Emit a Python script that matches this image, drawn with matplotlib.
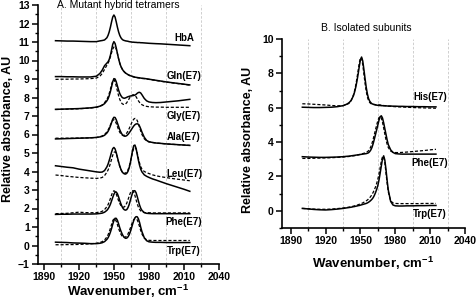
import matplotlib
matplotlib.use("Agg")
import matplotlib.pyplot as plt
from matplotlib.ticker import MultipleLocator

plt.rcParams['font.family'] = ['Liberation Sans', 'DejaVu Sans']
plt.rcParams['mathtext.fontset'] = 'custom'
plt.rcParams['mathtext.bf'] = 'Liberation Sans:bold'
plt.rcParams['mathtext.rm'] = 'Liberation Sans'
plt.rcParams['mathtext.default'] = 'bf'

# shared wavenumber grid (cm-1)
wavenumber = [1900, 1905, 1910, 1915, 1920, 1925, 1930, 1935, 1938, 1940, 1942,
              1944, 1945, 1946, 1947, 1948, 1949, 1950, 1951, 1952, 1953, 1954,
              1955, 1956, 1957, 1958, 1959, 1960, 1961, 1962, 1963, 1964, 1965,
              1966, 1967, 1968, 1969, 1970, 1971, 1972, 1973, 1974,
              1976, 1978, 1980, 1983, 1986, 1990, 1995, 2000, 2005, 2010, 2015]

# ---- Panel A: mutant hybrid tetramers ----
hba_solid = [11.07, 11.06, 11.05, 11.05, 11.04, 11.03, 11.02, 11.02, 11.06, 11.08, 11.11,
             11.23, 11.36, 11.55, 11.80, 12.09, 12.35, 12.46, 12.35, 12.09, 11.80, 11.55,
             11.36, 11.23, 11.15, 11.10, 11.08, 11.06, 11.05, 11.04, 11.02, 11.01, 11.00,
             10.99, 10.99, 10.98, 10.98, 10.97, 10.97, 10.97, 10.96, 10.96,
             10.95, 10.94, 10.93, 10.92, 10.91, 10.90, 10.88, 10.86, 10.84, 10.82, 10.80]

gln_solid = [9.13, 9.13, 9.12, 9.12, 9.11, 9.11, 9.11, 9.15, 9.30, 9.48, 9.72,
             9.86, 9.93, 10.06, 10.28, 10.57, 10.88, 11.02, 10.92, 10.68, 10.38, 10.10,
             9.86, 9.68, 9.55, 9.45, 9.38, 9.32, 9.28, 9.24, 9.21, 9.18, 9.16,
             9.14, 9.12, 9.10, 9.09, 9.08, 9.07, 9.06, 9.05, 9.04,
             9.03, 9.01, 8.99, 8.96, 8.93, 8.89, 8.84, 8.80, 8.76, 8.72, 8.68]
gln_dashed = [8.98, 8.99, 8.99, 9.00, 9.00, 9.01, 9.02, 9.05, 9.15, 9.30, 9.52,
              9.75, 9.85, 10.00, 10.20, 10.42, 10.62, 10.73, 10.75, 10.62, 10.38, 10.10,
              9.86, 9.68, 9.55, 9.45, 9.38, 9.32, 9.28, 9.24, 9.20, 9.17, 9.15,
              9.13, 9.11, 9.09, 9.08, 9.07, 9.06, 9.05, 9.04, 9.03,
              9.02, 9.00, 8.98, 8.95, 8.92, 8.88, 8.83, 8.79, 8.75, 8.71, 8.67]

gly_solid = [7.36, 7.37, 7.38, 7.39, 7.40, 7.42, 7.44, 7.48, 7.53, 7.58, 7.67,
             7.82, 7.93, 8.10, 8.32, 8.58, 8.85, 9.02, 9.00, 8.85, 8.62, 8.40,
             8.22, 8.10, 8.01, 7.97, 7.96, 7.98, 8.01, 8.04, 8.06, 8.08, 8.09,
             8.10, 8.11, 8.13, 8.17, 8.23, 8.27, 8.28, 8.24, 8.15,
             7.95, 7.82, 7.76, 7.73, 7.72, 7.73, 7.76, 7.79, 7.82, 7.86, 7.90]
gly_dashed = [7.35, 7.36, 7.37, 7.38, 7.39, 7.41, 7.43, 7.47, 7.53, 7.60, 7.72,
              7.90, 8.03, 8.22, 8.45, 8.70, 8.90, 8.96, 8.85, 8.62, 8.35, 8.10,
              7.90, 7.76, 7.67, 7.63, 7.62, 7.65, 7.72, 7.82, 7.93, 8.03, 8.10,
              8.14, 8.15, 8.12, 8.04, 7.93, 7.82, 7.73, 7.66, 7.61,
              7.55, 7.52, 7.50, 7.49, 7.48, 7.48, 7.47, 7.47, 7.47, 7.47, 7.47]

ala_solid = [5.76, 5.77, 5.78, 5.79, 5.80, 5.81, 5.82, 5.84, 5.87, 5.90, 5.96,
             6.08, 6.17, 6.30, 6.46, 6.64, 6.83, 6.93, 6.92, 6.80, 6.62, 6.44,
             6.26, 6.12, 6.01, 5.94, 5.91, 5.91, 5.94, 6.00, 6.08, 6.17, 6.27,
             6.37, 6.46, 6.53, 6.57, 6.58, 6.55, 6.45, 6.30, 6.13,
             5.85, 5.68, 5.61, 5.57, 5.54, 5.52, 5.49, 5.47, 5.45, 5.43, 5.41]
ala_dashed = [5.80, 5.80, 5.80, 5.80, 5.81, 5.81, 5.82, 5.84, 5.88, 5.92, 6.00,
              6.14, 6.24, 6.37, 6.52, 6.66, 6.77, 6.80, 6.74, 6.60, 6.43, 6.26,
              6.12, 6.03, 5.97, 5.95, 5.96, 6.00, 6.08, 6.18, 6.31, 6.45, 6.60,
              6.73, 6.83, 6.87, 6.85, 6.75, 6.58, 6.38, 6.18, 6.00,
              5.77, 5.65, 5.60, 5.57, 5.54, 5.52, 5.49, 5.47, 5.45, 5.43, 5.41]

leu_solid = [4.31, 4.27, 4.23, 4.20, 4.13, 4.08, 4.03, 3.98, 3.96, 3.97, 4.05,
             4.25, 4.40, 4.60, 4.82, 5.05, 5.24, 5.30, 5.22, 5.02, 4.77, 4.52,
             4.30, 4.12, 3.99, 3.91, 3.87, 3.86, 3.90, 4.00, 4.18, 4.45, 4.80,
             5.15, 5.40, 5.43, 5.25, 4.93, 4.60, 4.33, 4.12, 3.98,
             3.82, 3.74, 3.68, 3.60, 3.54, 3.45, 3.34, 3.24, 3.14, 3.04, 2.93]
leu_dashed = [3.81, 3.78, 3.74, 3.71, 3.68, 3.66, 3.64, 3.63, 3.64, 3.68, 3.78,
              3.96, 4.08, 4.24, 4.44, 4.66, 4.88, 5.03, 5.07, 4.97, 4.75, 4.50,
              4.27, 4.10, 3.98, 3.92, 3.90, 3.92, 3.98, 4.08, 4.25, 4.48, 4.76,
              5.05, 5.25, 5.31, 5.22, 4.98, 4.70, 4.45, 4.26, 4.13,
              4.00, 3.94, 3.89, 3.82, 3.77, 3.72, 3.67, 3.62, 3.58, 3.54, 3.50]

phe_a_solid = [1.68, 1.69, 1.69, 1.70, 1.70, 1.70, 1.70, 1.71, 1.73, 1.75, 1.80,
               1.90, 1.98, 2.09, 2.23, 2.41, 2.60, 2.77, 2.88, 2.89, 2.80, 2.63,
               2.43, 2.25, 2.10, 1.99, 1.93, 1.91, 1.94, 2.04, 2.20, 2.42, 2.65,
               2.85, 2.96, 2.96, 2.85, 2.64, 2.40, 2.18, 2.01, 1.90,
               1.78, 1.74, 1.73, 1.72, 1.72, 1.72, 1.72, 1.72, 1.72, 1.72, 1.72]
phe_a_dashed = [1.72, 1.73, 1.74, 1.77, 1.80, 1.78, 1.77, 1.78, 1.81, 1.85, 1.94,
                2.10, 2.21, 2.36, 2.54, 2.73, 2.89, 2.96, 2.92, 2.79, 2.60, 2.42,
                2.27, 2.16, 2.09, 2.07, 2.09, 2.16, 2.29, 2.46, 2.65, 2.83, 2.94,
                2.96, 2.88, 2.70, 2.47, 2.25, 2.07, 1.95, 1.87, 1.82,
                1.78, 1.77, 1.77, 1.76, 1.76, 1.76, 1.76, 1.76, 1.76, 1.76, 1.76]

trp_a_solid = [0.18, 0.17, 0.16, 0.14, 0.13, 0.12, 0.10, 0.10, 0.12, 0.15, 0.21,
               0.33, 0.42, 0.55, 0.72, 0.92, 1.15, 1.35, 1.47, 1.47, 1.36, 1.17,
               0.96, 0.78, 0.63, 0.51, 0.43, 0.39, 0.40, 0.46, 0.57, 0.73, 0.93,
               1.15, 1.35, 1.50, 1.56, 1.55, 1.44, 1.24, 0.98, 0.75,
               0.42, 0.26, 0.20, 0.18, 0.17, 0.17, 0.16, 0.16, 0.16, 0.16, 0.16]
trp_a_dashed = [0.04, 0.04, 0.05, 0.05, 0.06, 0.07, 0.09, 0.12, 0.16, 0.21, 0.30,
                0.46, 0.58, 0.74, 0.93, 1.14, 1.34, 1.45, 1.43, 1.31, 1.13, 0.93,
                0.75, 0.61, 0.51, 0.46, 0.44, 0.46, 0.52, 0.62, 0.76, 0.93, 1.11,
                1.28, 1.40, 1.45, 1.45, 1.38, 1.22, 1.01, 0.80, 0.62,
                0.40, 0.31, 0.28, 0.27, 0.27, 0.27, 0.27, 0.27, 0.27, 0.27, 0.27]

labels_a = ["HbA", "Gln(E7)", "Gly(E7)", "Ala(E7)", "Leu(E7)", "Phe(E7)", "Trp(E7)"]
label_y_a = [11.23, 9.16, 7.0, 5.86, 3.86, 1.27, -0.28]

# ---- Panel B: isolated subunits ----
his_solid = [6.03, 6.02, 6.01, 6.01, 6.02, 6.03, 6.06, 6.12, 6.20, 6.28, 6.42,
             6.70, 6.92, 7.20, 7.55, 7.95, 8.40, 8.80, 8.95, 8.72, 8.22, 7.68,
             7.18, 6.80, 6.53, 6.38, 6.29, 6.23, 6.20, 6.18, 6.16, 6.15, 6.14,
             6.13, 6.13, 6.12, 6.12, 6.11, 6.11, 6.11, 6.10, 6.10,
             6.10, 6.09, 6.09, 6.08, 6.08, 6.07, 6.07, 6.06, 6.06, 6.05, 6.05]
his_dashed = [6.23, 6.22, 6.20, 6.18, 6.16, 6.13, 6.11, 6.12, 6.18, 6.25, 6.42,
              6.75, 7.00, 7.32, 7.72, 8.15, 8.60, 8.90, 8.88, 8.50, 7.95, 7.40,
              6.95, 6.62, 6.42, 6.30, 6.24, 6.21, 6.20, 6.19, 6.18, 6.18, 6.17,
              6.17, 6.16, 6.15, 6.14, 6.13, 6.12, 6.11, 6.10, 6.09,
              6.08, 6.07, 6.06, 6.05, 6.04, 6.03, 6.01, 6.00, 5.99, 5.98, 5.97]

phe_b_solid = [3.15, 3.13, 3.12, 3.11, 3.11, 3.12, 3.13, 3.15, 3.17, 3.18, 3.20,
               3.22, 3.23, 3.24, 3.25, 3.26, 3.27, 3.28, 3.29, 3.30, 3.31, 3.32,
               3.33, 3.35, 3.38, 3.45, 3.55, 3.70, 3.92, 4.18, 4.45, 4.72, 5.00,
               5.28, 5.48, 5.53, 5.40, 5.12, 4.78, 4.45, 4.12, 3.85,
               3.55, 3.40, 3.33, 3.31, 3.30, 3.30, 3.30, 3.30, 3.30, 3.30, 3.30]
phe_b_dashed = [3.05, 3.05, 3.06, 3.07, 3.08, 3.09, 3.11, 3.13, 3.15, 3.16, 3.18,
                3.20, 3.21, 3.22, 3.24, 3.25, 3.27, 3.29, 3.31, 3.33, 3.35, 3.37,
                3.40, 3.44, 3.50, 3.60, 3.74, 3.94, 4.18, 4.45, 4.73, 5.00, 5.25,
                5.43, 5.49, 5.40, 5.15, 4.82, 4.47, 4.14, 3.87, 3.68,
                3.48, 3.41, 3.39, 3.39, 3.40, 3.42, 3.45, 3.48, 3.51, 3.55, 3.58]

trp_b_solid = [0.14, 0.11, 0.08, 0.06, 0.05, 0.07, 0.10, 0.14, 0.17, 0.19, 0.21,
               0.24, 0.25, 0.27, 0.28, 0.30, 0.31, 0.33, 0.35, 0.37, 0.39, 0.41,
               0.43, 0.46, 0.50, 0.55, 0.61, 0.68, 0.77, 0.90, 1.06, 1.25, 1.48,
               1.80, 2.20, 2.62, 3.02, 3.20, 2.95, 2.40, 1.75, 1.20,
               0.55, 0.34, 0.29, 0.28, 0.28, 0.29, 0.29, 0.30, 0.30, 0.31, 0.31]
trp_b_dashed = [0.14, 0.12, 0.10, 0.09, 0.09, 0.10, 0.13, 0.16, 0.19, 0.21, 0.24,
                0.27, 0.29, 0.31, 0.33, 0.35, 0.38, 0.40, 0.43, 0.46, 0.50, 0.54,
                0.58, 0.63, 0.69, 0.76, 0.85, 0.95, 1.08, 1.22, 1.40, 1.60, 1.85,
                2.15, 2.52, 2.90, 3.15, 3.15, 2.80, 2.20, 1.60, 1.10,
                0.58, 0.46, 0.43, 0.42, 0.42, 0.42, 0.42, 0.42, 0.43, 0.43, 0.43]

labels_b = ["His(E7)", "Phe(E7)", "Trp(E7)"]
label_y_b = [6.65, 2.8, -0.2]

xticks = [1890, 1920, 1950, 1980, 2010, 2040]

series_a = [(hba_solid, None), (gln_solid, gln_dashed), (gly_solid, gly_dashed),
            (ala_solid, ala_dashed), (leu_solid, leu_dashed),
            (phe_a_solid, phe_a_dashed), (trp_a_solid, trp_a_dashed)]
series_b = [(his_solid, his_dashed), (phe_b_solid, phe_b_dashed), (trp_b_solid, trp_b_dashed)]

fig = plt.figure(figsize=(4.77, 3.06), dpi=100)
axA = fig.add_axes([38/477, 42/306, 181/477, 259/306])
axB = fig.add_axes([282/477, 78/306, 183/477, 189/306])


def style(ax, ylim, ymajor, yminor):
    ax.set_xlim(1885, 2040)
    ax.set_ylim(*ylim)
    for sp in ['top', 'right']:
        ax.spines[sp].set_visible(False)
    for sp in ['left', 'bottom']:
        ax.spines[sp].set_linewidth(1.2)
    ax.xaxis.set_major_locator(MultipleLocator(30))
    ax.xaxis.set_minor_locator(MultipleLocator(15))
    ax.yaxis.set_major_locator(MultipleLocator(ymajor))
    ax.yaxis.set_minor_locator(MultipleLocator(yminor))
    ax.set_xticks(xticks)
    ax.tick_params(which='major', direction='out', length=4, width=1.1, pad=2)
    ax.tick_params(which='minor', direction='out', length=2.5, width=1.0)
    for lab in ax.get_xticklabels() + ax.get_yticklabels():
        lab.set_fontsize(7.5)
        lab.set_fontweight('bold')
    ax.grid(which='minor', axis='x', color='#c8c8c8', linestyle=(0, (3, 2)), linewidth=0.6)
    ax.set_axisbelow(True)
    ax.set_xlabel('Wavenumber, cm$^{-1}$', fontsize=9.5, fontweight='bold')
    ax.set_ylabel('Relative absorbance, AU', fontsize=9, fontweight='bold')


style(axA, (-1, 13), 1, 0.5)
style(axB, (-1, 10), 2, 1)
axB.set_xlim(1882.5, 2040)
axA.xaxis.set_label_coords(0.5, -0.072)
axB.xaxis.set_label_coords(0.5, -0.140)
axA.yaxis.set_label_coords(-0.133, 0.52)
axB.yaxis.set_label_coords(-0.152, 0.466)

for ax, series, labels, ly in [(axA, series_a, labels_a, label_y_a),
                               (axB, series_b, labels_b, label_y_b)]:
    for (s, d), lab, y in zip(series, labels, ly):
        ax.plot(wavenumber, s, color='black', lw=1.1, solid_joinstyle='round')
        if d is not None:
            ax.plot(wavenumber, d, color='black', lw=0.9, linestyle=(0, (2.5, 1.5)))
        ax.text(2010, y, lab, ha='center', va='center', fontsize=7, fontweight='bold')

fig.text(57/477, 1 - 5.5/306, 'A. Mutant hybrid tetramers', fontsize=7.5,
         ha='left', va='center')
fig.text(366/477, 1 - 28/306, 'B. Isolated subunits', fontsize=7.5,
         ha='center', va='center')

fig.savefig('out.png', dpi=100)
